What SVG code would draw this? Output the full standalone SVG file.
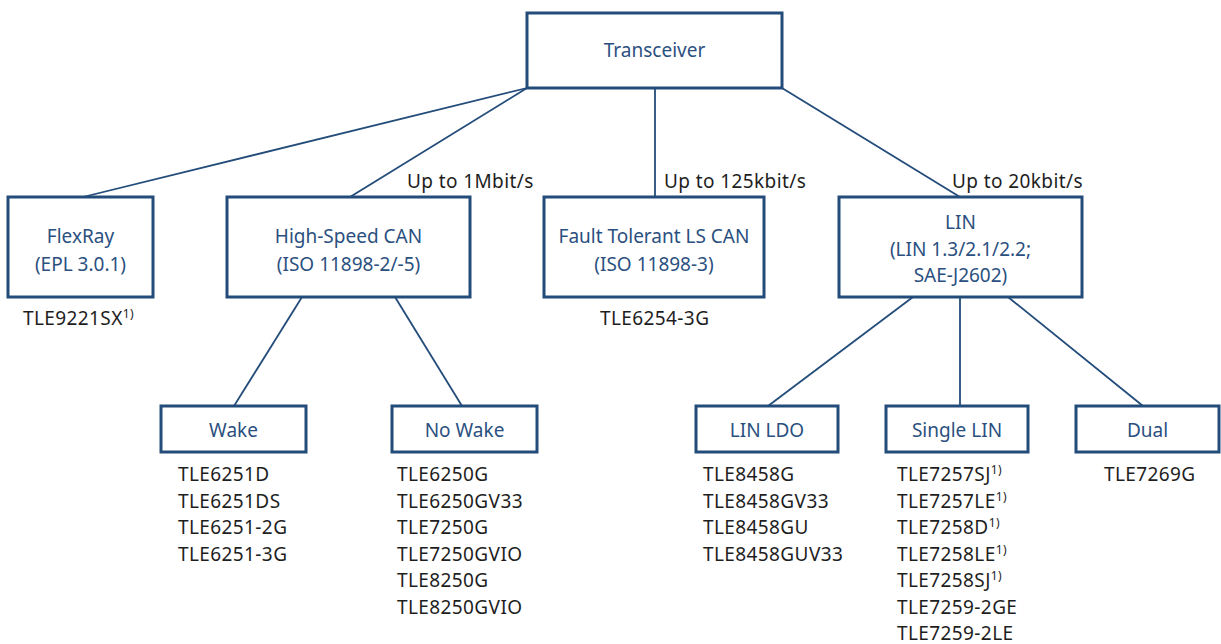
<svg xmlns="http://www.w3.org/2000/svg" width="1221" height="644" viewBox="0 0 1221 644">
<style>
.box{fill:#fff;stroke:#234c7a;stroke-width:3}
.lbl{font-family:"Noto Sans","Open Sans",sans-serif;font-size:19px;fill:#2b5080;text-anchor:middle}
.prod{font-family:"Noto Sans","Open Sans",sans-serif;font-size:19px;fill:#1e1e1e;letter-spacing:0.4px}
.spd{font-family:"Noto Sans","Open Sans",sans-serif;font-size:19px;fill:#1e1e1e;letter-spacing:0.4px}
.sup{font-size:12px}
#connectors line{stroke:#234c7a;stroke-width:1.8;fill:none}
</style>
<rect width="1221" height="644" fill="#fff"/>
<g id="connectors">
<line x1="527" y1="88" x2="83" y2="197"/>
<line x1="527" y1="88" x2="350" y2="197"/>
<line x1="655" y1="88" x2="655" y2="197"/>
<line x1="782" y1="88" x2="960" y2="197"/>
<line x1="302" y1="297" x2="234" y2="406"/>
<line x1="395" y1="297" x2="462" y2="406"/>
<line x1="913" y1="297" x2="768" y2="406"/>
<line x1="960" y1="297" x2="960" y2="406"/>
<line x1="1008" y1="297" x2="1143" y2="406"/>
</g>
<g id="transceiver">
<rect class="box" x="527" y="13" width="255" height="75"/>
<text class="lbl" x="654.5" y="57">Transceiver</text>
</g>
<g id="flexray">
<rect class="box" x="8" y="197" width="145" height="100"/>
<text class="lbl" x="80.5" y="243">FlexRay</text>
<text class="lbl" x="80.5" y="271">(EPL 3.0.1)</text>
<text class="prod" x="23" y="325">TLE9221SX<tspan class="sup" dy="-7">1)</tspan></text>
</g>
<g id="hscan">
<rect class="box" x="227" y="197" width="243" height="100"/>
<text class="lbl" x="348.5" y="243">High-Speed CAN</text>
<text class="lbl" x="348.5" y="271">(ISO 11898-2/-5)</text>
<text class="spd" x="407" y="188">Up to 1Mbit/s</text>
</g>
<g id="ftcan">
<rect class="box" x="544" y="197" width="220" height="100"/>
<text class="lbl" x="654" y="243">Fault Tolerant LS CAN</text>
<text class="lbl" x="654" y="271">(ISO 11898-3)</text>
<text class="spd" x="664" y="188">Up to 125kbit/s</text>
<text class="prod" x="600" y="325">TLE6254-3G</text>
</g>
<g id="lin">
<rect class="box" x="839" y="197" width="243" height="100"/>
<text class="lbl" x="960.5" y="229">LIN</text>
<text class="lbl" x="960.5" y="256">(LIN 1.3/2.1/2.2;</text>
<text class="lbl" x="960.5" y="282">SAE-J2602)</text>
<text class="spd" x="952" y="188">Up to 20kbit/s</text>
</g>
<g id="wake">
<rect class="box" x="161" y="406" width="145" height="46"/>
<text class="lbl" x="233.5" y="437">Wake</text>
<text class="prod" x="178" y="481">TLE6251D</text>
<text class="prod" x="178" y="507.5">TLE6251DS</text>
<text class="prod" x="178" y="534">TLE6251-2G</text>
<text class="prod" x="178" y="560.5">TLE6251-3G</text>
</g>
<g id="nowake">
<rect class="box" x="392" y="406" width="145" height="46"/>
<text class="lbl" x="464.5" y="437">No Wake</text>
<text class="prod" x="397" y="481">TLE6250G</text>
<text class="prod" x="397" y="507.5">TLE6250GV33</text>
<text class="prod" x="397" y="534">TLE7250G</text>
<text class="prod" x="397" y="560.5">TLE7250GVIO</text>
<text class="prod" x="397" y="587">TLE8250G</text>
<text class="prod" x="397" y="613.5">TLE8250GVIO</text>
</g>
<g id="linldo">
<rect class="box" x="696" y="406" width="142" height="46"/>
<text class="lbl" x="767" y="437">LIN LDO</text>
<text class="prod" x="703" y="481">TLE8458G</text>
<text class="prod" x="703" y="507.5">TLE8458GV33</text>
<text class="prod" x="703" y="534">TLE8458GU</text>
<text class="prod" x="703" y="560.5">TLE8458GUV33</text>
</g>
<g id="singlelin">
<rect class="box" x="886" y="406" width="142" height="46"/>
<text class="lbl" x="957" y="437">Single LIN</text>
<text class="prod" x="897" y="481">TLE7257SJ<tspan class="sup" dy="-7">1)</tspan></text>
<text class="prod" x="897" y="507.5">TLE7257LE<tspan class="sup" dy="-7">1)</tspan></text>
<text class="prod" x="897" y="534">TLE7258D<tspan class="sup" dy="-7">1)</tspan></text>
<text class="prod" x="897" y="560.5">TLE7258LE<tspan class="sup" dy="-7">1)</tspan></text>
<text class="prod" x="897" y="587">TLE7258SJ<tspan class="sup" dy="-7">1)</tspan></text>
<text class="prod" x="897" y="613.5">TLE7259-2GE</text>
<text class="prod" x="897" y="640">TLE7259-2LE</text>
</g>
<g id="dual">
<rect class="box" x="1076" y="406" width="143" height="46"/>
<text class="lbl" x="1147.5" y="437">Dual</text>
<text class="prod" x="1104" y="481">TLE7269G</text>
</g>
</svg>
